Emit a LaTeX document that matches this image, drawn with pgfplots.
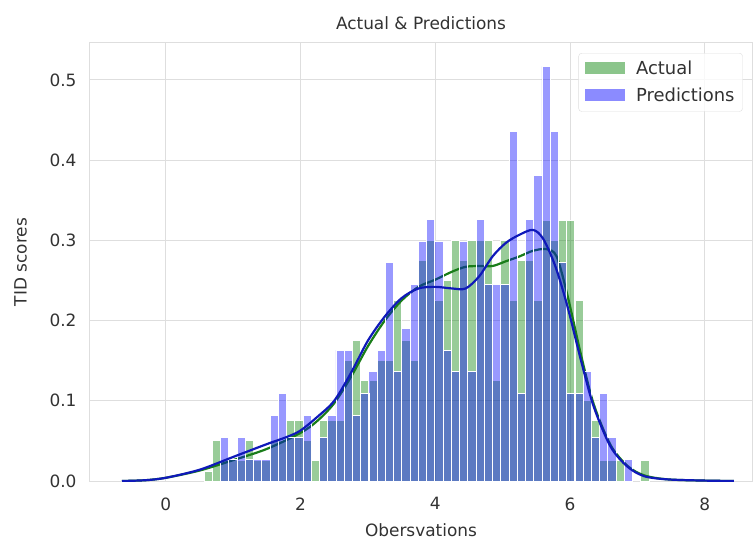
\documentclass[border=0pt]{standalone}
\usepackage{fontspec}
\setmainfont{DejaVu Sans}
\usepackage{pgfplots}
\pgfplotsset{compat=1.18}
\usepackage{pgfplotstable}
\definecolor{mplgreen}{RGB}{0,128,0}
\definecolor{mplblue}{RGB}{0,0,255}
\definecolor{kdeblue}{RGB}{15,25,185}
\definecolor{kdegreen}{RGB}{25,125,25}
\definecolor{gridgray}{RGB}{222,222,222}
\definecolor{txt}{RGB}{50,50,50}

\pgfplotstableread{
x      g       b
0.630  0.0125  nan
0.752  0.050   nan
0.875  0.025   0.054
0.997  0.025   0.027
1.119  0.025   0.054
1.242  0.050   0.027
1.364  0.025   0.027
1.486  0.025   0.027
1.608  0.050   0.082
1.731  0.050   0.109
1.853  0.075   0.054
1.975  0.075   0.054
2.098  0.050   0.082
2.220  0.025   nan
2.342  0.075   0.054
2.465  0.075   0.082
2.587  0.075   0.163
2.709  0.150   0.163
2.831  0.175   0.082
2.954  0.125   0.109
3.076  0.125   0.136
3.198  0.150   0.163
3.321  0.150   0.272
3.443  0.225   0.136
3.565  0.175   0.190
3.688  0.150   0.245
3.810  0.275   0.299
3.932  0.300   0.326
4.054  0.225   0.299
4.177  0.250   0.163
4.299  0.300   0.136
4.421  0.275   0.299
4.544  0.300   0.136
4.666  0.300   0.326
4.788  0.300   0.245
4.911  0.125   0.245
5.033  0.300   0.245
5.155  0.225   0.436
5.277  0.275   0.109
5.400  0.275   0.326
5.522  0.225   0.381
5.644  0.325   0.517
5.767  0.300   0.436
5.889  0.325   0.272
6.011  0.325   0.109
6.134  0.225   0.109
6.256  0.100   0.136
6.378  0.075   0.054
6.500  0.025   0.109
6.623  0.025   0.054
6.745  0.025   nan
6.867  nan     0.027
7.112  0.025   nan
}\hist

\begin{document}
\begin{tikzpicture}
\useasboundingbox (-90bp,-61bp) rectangle (665bp,481bp);
\begin{axis}[
  at={(0,0)}, anchor=south west,
  width=662bp, height=438bp, scale only axis,
  xmin=-1.125, xmax=8.70, ymin=0, ymax=0.546,
  xtick={0,2,4,6,8}, ytick={0,0.1,0.2,0.3,0.4,0.5},
  /pgf/number format/assume math mode=true,
  yticklabel style={/pgf/number format/fixed, /pgf/number format/fixed zerofill, /pgf/number format/precision=1, xshift=-10bp},
  tick label style={font=\fontsize{17}{20}\selectfont, text=txt},
  major tick length=0pt,
  axis line style={gridgray, line width=1bp},
  grid=major, grid style={gridgray, line width=1bp},
  xlabel={Obersvations}, ylabel={TID scores},
  title={Actual \& Predictions},
  title style={font=\fontsize{17}{19}\selectfont, text=txt, at={(axis description cs:0.5,1)}, anchor=south, yshift=4bp},
  every axis x label/.style={at={(axis description cs:0.5,-0.112)}, anchor=center, font=\fontsize{17}{20}\selectfont, text=txt},
  every axis y label/.style={at={(axis description cs:-0.105,0.5)}, rotate=90, anchor=center, font=\fontsize{17}{20}\selectfont, text=txt},
  xticklabel style={yshift=-13bp},
  legend style={at={(0.986,0.977)}, anchor=north east, draw=gridgray, fill=white, fill opacity=0.8, text opacity=1,
    rounded corners=3bp, font=\fontsize{18}{21}\selectfont, text=txt, inner xsep=6bp, inner ysep=6bp, row sep=8bp},
  legend cell align=left,
  unbounded coords=discard,
]
\addplot[ybar, bar width=0.1223, bar shift=0pt, fill=mplgreen, fill opacity=0.4, draw=white, line width=0.9bp,
  legend image code/.code={\path[fill=mplgreen, fill opacity=0.45, draw=none, sharp corners] (0bp,-5bp) rectangle (40bp,7bp); \path (49bp,0bp);}]
  table[x=x, y=g]{\hist};
\addlegendentry{Actual}
\addplot[smooth, kdegreen, line width=2.2bp, forget plot] coordinates {
(-0.65,0) (-0.3,0.001) (0,0.004) (0.5,0.013) (1.0,0.026) (1.5,0.040) (2.0,0.060) (2.25,0.075) (2.5,0.097)
(2.75,0.130) (3.0,0.168) (3.25,0.200) (3.5,0.225) (3.75,0.242) (4.0,0.251) (4.25,0.261) (4.45,0.267)
(4.65,0.268) (4.85,0.268) (5.05,0.274) (5.25,0.280) (5.45,0.287) (5.65,0.289) (5.8,0.280) (5.96,0.232)
(6.16,0.158) (6.35,0.096) (6.6,0.045) (6.85,0.019) (7.1,0.007) (7.45,0.002) (8.0,0.0005) (8.43,0)};
\addplot[ybar, bar width=0.1223, bar shift=0pt, fill=mplblue, fill opacity=0.4, draw=white, line width=0.9bp,
  legend image code/.code={\path[fill=mplblue, fill opacity=0.45, draw=none, sharp corners] (0bp,-5bp) rectangle (40bp,7bp); \path (49bp,0bp);}]
  table[x=x, y=b]{\hist};
\addlegendentry{Predictions}
\addplot[smooth, kdeblue, line width=2.2bp, forget plot] coordinates {
(-0.65,0) (-0.3,0.001) (0,0.004) (0.5,0.014) (1.0,0.030) (1.5,0.046) (1.8,0.055) (2.0,0.063) (2.25,0.080)
(2.5,0.100) (2.75,0.135) (3.0,0.175) (3.25,0.205) (3.5,0.228) (3.75,0.240) (4.0,0.242) (4.25,0.240)
(4.45,0.240) (4.65,0.255) (4.85,0.280) (5.05,0.297) (5.25,0.307) (5.45,0.313) (5.6,0.302) (5.78,0.268)
(5.96,0.218) (6.16,0.151) (6.35,0.093) (6.6,0.043) (6.85,0.018) (7.1,0.006) (7.45,0.002) (8.0,0.0005) (8.43,0)};
\end{axis}
\end{tikzpicture}
\end{document}
